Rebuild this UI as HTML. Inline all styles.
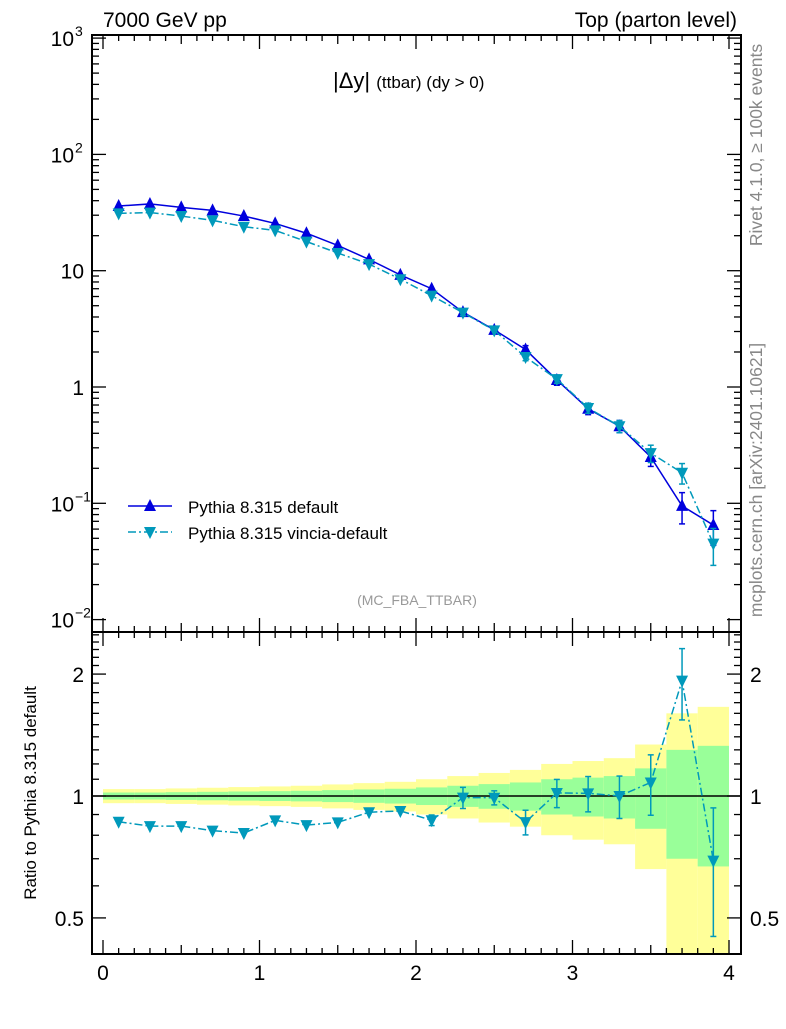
<!DOCTYPE html>
<html><head><meta charset="utf-8"><style>
body{margin:0;background:#fff}
svg text{font-family:"Liberation Sans",sans-serif}
</style></head><body>
<svg id="c" width="786" height="1024" xmlns="http://www.w3.org/2000/svg"></svg>
<script>
const centers=[0.1,0.3,0.5,0.7,0.9,1.1,1.3,1.5,1.7,1.9,2.1,2.3,2.5,2.7,2.9,3.1,3.3,3.5,3.7,3.9];
const defVals=[36,37.5,35,33,29.5,25.5,21,16.5,12.5,9.2,7,4.4,3.1,2.1,1.15,0.65,0.46,0.25,0.095,0.065];
const vinVals=[31.1,31.6,29.5,27.1,23.9,22.2,17.8,14.2,11.4,8.45,6.1,4.36,3.07,1.81,1.17,0.66,0.46,0.27,0.183,0.045];
const relErr=[0.02,0.02,0.022,0.024,0.026,0.028,0.03,0.034,0.038,0.042,0.05,0.06,0.07,0.08,0.1,0.11,0.12,0.17,0.3,0.33];
const vinErr=[0.01,0.01,0.01,0.01,0.01,0.012,0.012,0.014,0.016,0.02,0.03,0.06,0.04,0.07,0.08,0.1,0.12,0.17,0.2,0.35];
const xTicks=[0,1,2,3,4];
const yDecades=[-2,-1,0,1,2,3];
const yLabels=["10","10","1","10","10","10"];
const ySup=["−2","−1","","","2","3"];
const rTicks=[0.5,1,2];
const svg=document.getElementById('c');
const NS='http://www.w3.org/2000/svg';
function el(t,a,p){const e=document.createElementNS(NS,t);for(const k in a)e.setAttribute(k,a[k]);(p||svg).appendChild(e);return e;}
const L=92,R=741,T=35,MB=632,RB=954;
const X=v=>103+v*156.5;
const Y=v=>387-Math.log10(v)*116.3;
const RY=v=>796-Math.log10(v)*405;
const bands=el('g',{});


centers.forEach((c,i)=>{
 const x0=X(c-0.1),x1=X(c+0.1),e=relErr[i];
 const yl=el('rect',{x:x0,y:RY(1+2*e),width:x1-x0,height:Math.min(RB,RY(Math.max(0.01,1-2*e)))-RY(1+2*e),fill:'#ffff99'},bands);
 
 
 const g=el('rect',{x:x0,y:RY(1+e),width:x1-x0,height:RY(1-e)-RY(1+e),fill:'#99ff99'},bands);
 
 
});
el('rect',{x:L,y:RB,width:R-L,height:80,fill:'#fff'});
el('line',{x1:L,x2:R,y1:RY(1),y2:RY(1),stroke:'#000','stroke-width':1.5});
const f1=el('rect',{x:L,y:T,width:R-L,height:MB-T,fill:'none',stroke:'#000','stroke-width':2});


const f2=el('rect',{x:L,y:MB,width:R-L,height:RB-MB,fill:'none',stroke:'#000','stroke-width':2});


for(let k=0;k<=41;k++){const v=k*0.1;const x=X(v);if(x<L||x>R)continue;const maj=k%10==0,med=k%5==0;const len=maj?14:(med?9:6);
 [[T,1],[MB,-1],[MB,1],[RB,-1]].forEach(([y,d])=>el('line',{x1:x,x2:x,y1:y,y2:y+d*len,stroke:'#000','stroke-width':1.3}));}
xTicks.forEach(v=>{const t=el('text',{x:X(v),y:980,'font-size':21,'text-anchor':'middle'});t.textContent=v;
 });
yDecades.forEach((d,i)=>{for(let m=1;m<10;m++){const y=Y(m*Math.pow(10,d));if(y<T||y>MB)continue;const len=m==1?14:7;
 el('line',{x1:L,x2:L+len,y1:y,y2:y,stroke:'#000','stroke-width':1.3});el('line',{x1:R,x2:R-len,y1:y,y2:y,stroke:'#000','stroke-width':1.3});}
 const t=el('text',{x:ySup[i]?74:84,y:Y(Math.pow(10,d))+8,'font-size':21,'text-anchor':'end'});t.textContent=yLabels[i];
 
 if(ySup[i]){const s=el('text',{x:75,y:Y(Math.pow(10,d))-2,'font-size':14});s.textContent=ySup[i];}});
for(let k=4;k<=25;k++){const v=k/10;const y=RY(v);if(y<MB||y>RB)continue;const maj=(v==0.5||v==1||v==2);const len=maj?14:7;
 el('line',{x1:L,x2:L+len,y1:y,y2:y,stroke:'#000','stroke-width':1.3});el('line',{x1:R,x2:R-len,y1:y,y2:y,stroke:'#000','stroke-width':1.3});}
rTicks.forEach(v=>{[[84,'end'],[750,'start']].forEach(([x,a])=>{const t=el('text',{x:x,y:RY(v)+8,'font-size':21,'text-anchor':a});t.textContent=v;
 });});
function up(x,y,c,p){return el('polygon',{points:`${x},${y-7} ${x-6},${y+5} ${x+6},${y+5}`,fill:c},p);}
function dn(x,y,c,p){return el('polygon',{points:`${x},${y+7} ${x-6},${y-5} ${x+6},${y-5}`,fill:c},p);}
function ebar(x,y1,y2,c,p){el('line',{x1:x,x2:x,y1:y1,y2:y2,stroke:c,'stroke-width':1.5},p);el('line',{x1:x-3,x2:x+3,y1:y1,y2:y1,stroke:c,'stroke-width':1.5},p);el('line',{x1:x-3,x2:x+3,y1:y2,y2:y2,stroke:c,'stroke-width':1.5},p);}
const cD='#0000dd',cV='#0099bb';
const gD=el('g',{});
el('polyline',{points:centers.map((c,i)=>X(c)+','+Y(defVals[i])).join(' '),fill:'none',stroke:cD,'stroke-width':1.5},gD);
centers.forEach((c,i)=>{const e=relErr[i];if(e>0.05)ebar(X(c),Y(defVals[i]*(1+e)),Y(defVals[i]*(1-e)),cD,gD);const m=up(X(c),Y(defVals[i]),cD,gD);
 });
const gV=el('g',{});
el('polyline',{points:centers.map((c,i)=>X(c)+','+Y(vinVals[i])).join(' '),fill:'none',stroke:cV,'stroke-width':1.5,'stroke-dasharray':'8,3,2,3'},gV);
centers.forEach((c,i)=>{const e=vinErr[i];if(e>0.05)ebar(X(c),Y(vinVals[i]*(1+e)),Y(vinVals[i]*(1-e)),cV,gV);const m=dn(X(c),Y(vinVals[i]),cV,gV);
 });
const gR=el('g',{});
const rat=centers.map((c,i)=>vinVals[i]/defVals[i]);
el('polyline',{points:centers.map((c,i)=>X(c)+','+Math.min(RB+20,RY(rat[i]))).join(' '),fill:'none',stroke:cV,'stroke-width':1.5,'stroke-dasharray':'8,3,2,3'},gR);
centers.forEach((c,i)=>{const r=rat[i],e=vinErr[i];
 if(e>0.02)ebar(X(c),RY(r*(1+e)),Math.min(RB,RY(Math.max(0.05,r*(1-e)))),cV,gR);const m=dn(X(c),RY(r),cV,gR);
 });
</script>
<svg width="786" height="1024" style="position:absolute;left:0;top:0" xmlns="http://www.w3.org/2000/svg">
<text x="103" y="27" font-size="21">7000 GeV pp</text>
<text x="737" y="27" font-size="21" text-anchor="end">Top (parton level)</text>
<text x="333" y="88" font-size="22">|Δy| <tspan font-size="17">(ttbar) (dy &gt; 0)</tspan></text>
<text x="417" y="605" font-size="14" fill="#999" text-anchor="middle">(MC_FBA_TTBAR)</text>
<g>
<line x1="128" x2="172" y1="506" y2="506" stroke="#0000dd" stroke-width="1.5"/>
<polygon points="150,499 144,511 156,511" fill="#0000dd"/>
<text x="188" y="513" font-size="17">Pythia 8.315 default</text>
<line x1="128" x2="172" y1="532" y2="532" stroke="#0099bb" stroke-width="1.5" stroke-dasharray="8,3,2,3"/>
<polygon points="150,539 144,527 156,527" fill="#0099bb"/>
<text x="188" y="539" font-size="17">Pythia 8.315 vincia-default</text>
</g>
<text transform="translate(762,145) rotate(-90)" font-size="17.5" fill="#888" text-anchor="middle">Rivet 4.1.0, ≥ 100k events</text>
<text transform="translate(762,480) rotate(-90)" font-size="17.5" fill="#888" text-anchor="middle">mcplots.cern.ch [arXiv:2401.10621]</text>
<text transform="translate(36,793) rotate(-90)" font-size="17" text-anchor="middle">Ratio to Pythia 8.315 default</text>
</svg>
</body></html>
